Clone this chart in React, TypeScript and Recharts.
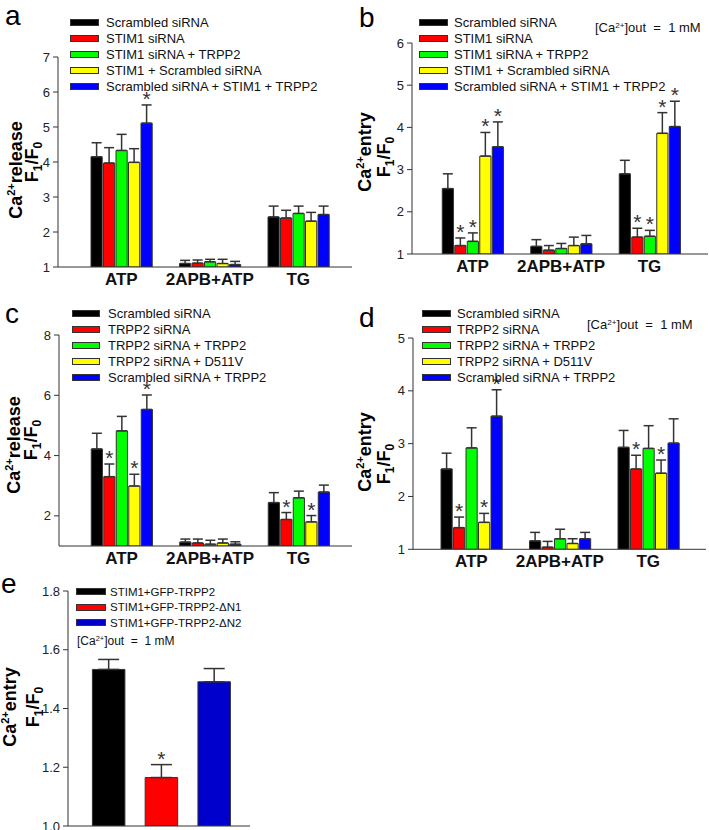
import React from 'react';
import { BarChart, Bar, XAxis, YAxis, ErrorBar, LabelList, Cell } from 'recharts';

const FONT = '"Liberation Sans", Arial, Helvetica, sans-serif';

// ---------- shared categories / series ----------
const groups = ['ATP', '2APB+ATP', 'TG'];
const colors5 = ['#000000', '#FF0000', '#00FF00', '#FFFF00', '#0000FF'];
const namesAB = ['Scrambled siRNA', 'STIM1 siRNA', 'STIM1 siRNA + TRPP2', 'STIM1 + Scrambled siRNA', 'Scrambled siRNA + STIM1 + TRPP2'];
const namesCD = ['Scrambled siRNA', 'TRPP2 siRNA', 'TRPP2 siRNA + TRPP2', 'TRPP2 siRNA + D511V', 'Scrambled siRNA + TRPP2'];

// ---------- panel a : Ca2+ release (rows = series, cols = groups) ----------
const aMean = [[4.15, 1.10, 2.43], [3.97, 1.11, 2.40], [4.33, 1.15, 2.53], [3.99, 1.10, 2.31], [5.11, 1.07, 2.50]];
const aErr = [[0.40, 0.09, 0.31], [0.44, 0.09, 0.22], [0.46, 0.07, 0.21], [0.39, 0.12, 0.25], [0.52, 0.09, 0.24]];
const aStar = [[0, 0, 0], [0, 0, 0], [0, 0, 0], [0, 0, 0], [1, 0, 0]];
const aTicks = [1, 2, 3, 4, 5, 6, 7];

// ---------- panel b : Ca2+ entry ----------
const bMean = [[2.55, 1.18, 2.90], [1.20, 1.09, 1.40], [1.30, 1.13, 1.42], [3.32, 1.20, 3.86], [3.54, 1.24, 4.02]];
const bErr = [[0.35, 0.16, 0.32], [0.18, 0.11, 0.21], [0.20, 0.12, 0.14], [0.56, 0.20, 0.49], [0.59, 0.20, 0.60]];
const bStar = [[0, 0, 0], [1, 0, 1], [1, 0, 1], [1, 0, 1], [1, 0, 1]];
const bTicks = [1, 2, 3, 4, 5, 6];

// ---------- panel c : Ca2+ release ----------
const cMean = [[4.22, 1.13, 2.44], [3.30, 1.10, 1.88], [4.82, 1.06, 2.60], [2.99, 1.10, 1.80], [5.53, 1.06, 2.79]];
const cErr = [[0.52, 0.10, 0.33], [0.42, 0.13, 0.23], [0.48, 0.13, 0.22], [0.39, 0.13, 0.21], [0.48, 0.08, 0.23]];
const cStar = [[0, 0, 0], [1, 0, 1], [0, 0, 0], [1, 0, 1], [1, 0, 0]];
const cTicks = [2, 4, 6, 8];

// ---------- panel d : Ca2+ entry ----------
const dMean = [[2.52, 1.16, 2.93], [1.41, 1.04, 2.52], [2.92, 1.20, 2.91], [1.51, 1.11, 2.44], [3.52, 1.20, 3.01]];
const dErr = [[0.30, 0.16, 0.32], [0.20, 0.11, 0.26], [0.38, 0.18, 0.43], [0.17, 0.09, 0.25], [0.50, 0.12, 0.46]];
const dStar = [[0, 0, 0], [1, 0, 1], [0, 0, 0], [1, 0, 1], [1, 0, 0]];
const dTicks = [1, 2, 3, 4, 5];

// ---------- panel e ----------
const eNames = ['STIM1+GFP-TRPP2', 'STIM1+GFP-TRPP2-\u0394N1', 'STIM1+GFP-TRPP2-\u0394N2'];
const eColors = ['#000000', '#FF0000', '#0000CC'];
const eMean = [1.533, 1.165, 1.491];
const eErr = [0.034, 0.044, 0.045];
const eStar = [0, 1, 0];
const eTicks = [1.0, 1.2, 1.4, 1.6, 1.8];

const starContent = (rows: any[], vKey: string, eKey: string, sKey: string, base: number) => (props: any) => {
  let idx = props.index;
  if (idx === undefined) idx = rows.findIndex((r) => r[vKey] === props.value);
  const row = rows[idx];
  if (!row || !row[sKey]) return null;
  const vb = props.viewBox && props.viewBox.height !== undefined ? props.viewBox : props;
  const x = Number(vb.x), y = Number(vb.y), w = Number(vb.width), h = Number(vb.height);
  const pxPer = Math.abs(h) / (row[vKey] - base);
  const top = Math.min(y, y + h) - row[eKey] * pxPer;
  return (
    <text x={x + w / 2} y={top + 1} textAnchor="middle" fontSize={21} fill="#333" fontFamily={FONT}>*</text>
  );
};

const XTick = (props: any) => (
  <text x={props.x} y={props.y + 18} textAnchor="middle" fontSize={17} fontWeight="bold" fill="#111" fontFamily={FONT}>
    {props.payload.value}
  </text>
);

function GroupPanel(p: any) {
  const rows = groups.map((g, gi) => {
    const r: any = { group: g };
    p.means.forEach((m: number[], s: number) => {
      r['v' + s] = m[gi];
      r['e' + s] = [0, p.errs[s][gi]];
      r['ev' + s] = p.errs[s][gi];
      r['s' + s] = p.stars[s][gi];
    });
    return r;
  });
  return (
    <div style={{ position: 'absolute', left: p.left, top: p.top }}>
      <BarChart width={p.width} height={p.height} data={rows}
        margin={{ top: p.mt, right: p.mr, bottom: p.mb, left: 0 }} barSize={11.2} barGap={1.3}>
        <XAxis dataKey="group" height={p.xh} padding={{ left: p.padL, right: p.padR }} tickLine={false}
          tickSize={0} tickMargin={0} axisLine={{ stroke: '#333' }} tick={XTick} interval={0} />
        <YAxis width={p.yW} domain={p.domain} ticks={p.ticks} allowDataOverflow type="number"
          tickSize={5} tickMargin={3} axisLine={{ stroke: '#333' }} tickLine={{ stroke: '#333' }}
          tick={{ fontSize: 13, fill: '#222', fontFamily: FONT }} interval={0} />
        {p.means.map((_: any, s: number) => (
          <Bar key={s} dataKey={'v' + s} fill={colors5[s]} stroke="#333" strokeWidth={1} isAnimationActive={false}>
            <ErrorBar dataKey={'e' + s} width={5} stroke="#333" strokeWidth={1.5} direction="y" />
            <LabelList dataKey={'v' + s} content={starContent(rows, 'v' + s, 'ev' + s, 's' + s, p.domain[0])} />
          </Bar>
        ))}
      </BarChart>
    </div>
  );
}

function EPanel() {
  const rows = eNames.map((n, i) => ({ name: n, v: eMean[i], e: [0, eErr[i]], ev: eErr[i], s: eStar[i] }));
  return (
    <div style={{ position: 'absolute', left: 0, top: 570 }}>
      <BarChart width={260} height={260} data={rows} margin={{ top: 21, right: 10, bottom: 0, left: 0 }} barSize={32.5}>
        <XAxis dataKey="name" height={4} padding={{ left: 14.4, right: 9.3 }} tick={false} tickLine={false}
          axisLine={{ stroke: '#333' }} />
        <YAxis width={68} domain={[1, 1.8]} ticks={eTicks} allowDataOverflow type="number"
          tickFormatter={(v: number) => v.toFixed(1)} tickSize={5} tickMargin={3}
          axisLine={{ stroke: '#333' }} tickLine={{ stroke: '#333' }}
          tick={{ fontSize: 13, fill: '#222', fontFamily: FONT }} interval={0} />
        <Bar dataKey="v" stroke="#333" strokeWidth={1} isAnimationActive={false}>
          {rows.map((_, i) => <Cell key={i} fill={eColors[i]} />)}
          <ErrorBar dataKey="e" width={10.5} stroke="#333" strokeWidth={1.5} direction="y" />
          <LabelList dataKey="v" content={starContent(rows, 'v', 'ev', 's', 1)} />
        </Bar>
      </BarChart>
    </div>
  );
}

function LegendBox(p: any) {
  return (
    <div style={{ position: 'absolute', left: p.left, top: p.top, fontFamily: FONT, fontSize: p.fontSize, color: '#111' }}>
      {p.names.map((n: string, i: number) => (
        <div key={i} style={{ display: 'flex', alignItems: 'center', height: p.rowH, whiteSpace: 'nowrap' }}>
          <div style={{ width: p.swW, height: 7, background: p.colors[i], border: '1px solid #333', boxSizing: 'border-box', marginRight: p.gap }} />
          <span>{n}</span>
        </div>
      ))}
    </div>
  );
}

function OutNote(p: any) {
  return (
    <div style={{ position: 'absolute', left: p.left, top: p.top, fontFamily: FONT, fontSize: p.fontSize, lineHeight: '14px', whiteSpace: 'pre', color: '#111' }}>
      [Ca<span style={{ fontSize: p.fontSize * 0.62, verticalAlign: 'top', lineHeight: '10px' }}>2+</span>]out  =  1 mM
    </div>
  );
}

function YLabel(p: any) {
  return (
    <g fontFamily={FONT} fontWeight="bold" fill="#000">
      <text transform={`translate(${p.x1},${p.y1}) rotate(-90)`} textAnchor="middle" fontSize={18}>
        Ca<tspan fontSize={11} dy={-7}>2+</tspan><tspan dy={7}>{p.word}</tspan>
      </text>
      <text transform={`translate(${p.x2},${p.y2}) rotate(-90)`} textAnchor="middle" fontSize={18}>
        F<tspan fontSize={12} dy={4}>1</tspan><tspan dy={-4}>/F</tspan><tspan fontSize={12} dy={4}>0</tspan>
      </text>
    </g>
  );
}

export default function App() {
  return (
    <div style={{ position: 'absolute', left: 0, top: 0, width: 709, height: 830, background: '#fff', overflow: 'hidden' }}>
      <GroupPanel left={0} top={0} width={354} height={300} yW={58} mt={57} mr={2} mb={3} xh={30}
        padL={19} padR={9.5} domain={[1, 7]} ticks={aTicks} means={aMean} errs={aErr} stars={aStar} />
      <GroupPanel left={354} top={0} width={355} height={300} yW={58} mt={43} mr={1} mb={16} xh={30}
        padL={16.25} padR={14.25} domain={[1, 6]} ticks={bTicks} means={bMean} errs={bErr} stars={bStar} />
      <GroupPanel left={0} top={300} width={354} height={280} yW={59} mt={35} mr={2} mb={4} xh={30}
        padL={18.25} padR={9.25} domain={[1, 8]} ticks={cTicks} means={cMean} errs={cErr} stars={cStar} />
      <GroupPanel left={354} top={300} width={355} height={280} yW={59} mt={38} mr={3} mb={0.7} xh={30}
        padL={14} padR={13.5} domain={[1, 5]} ticks={dTicks} means={dMean} errs={dErr} stars={dStar} />
      <EPanel />

      <LegendBox left={70} top={14} rowH={16.1} swW={29} gap={7} fontSize={13} names={namesAB} colors={colors5} />
      <LegendBox left={419} top={15} rowH={15.8} swW={29} gap={6} fontSize={13} names={namesAB} colors={colors5} />
      <LegendBox left={72} top={305} rowH={16} swW={28} gap={8} fontSize={13} names={namesCD} colors={colors5} />
      <LegendBox left={422} top={305} rowH={16} swW={29} gap={6} fontSize={13} names={namesCD} colors={colors5} />
      <LegendBox left={76} top={584} rowH={15.5} swW={30} gap={4} fontSize={11.5} names={eNames} colors={eColors} />

      <OutNote left={595} top={21} fontSize={13} />
      <OutNote left={587} top={318} fontSize={13} />
      <OutNote left={77} top={634} fontSize={12} />

      <svg width={709} height={830} style={{ position: 'absolute', left: 0, top: 0, pointerEvents: 'none' }}>
        <g fontFamily={FONT} fontSize={28} fill="#000">
          <text x={5} y={25}>a</text>
          <text x={359} y={27}>b</text>
          <text x={5} y={323}>c</text>
          <text x={359} y={327}>d</text>
          <text x={1} y={593}>e</text>
        </g>
        <YLabel word="release" x1={21.5} y1={170} x2={38} y2={162} />
        <YLabel word="entry" x1={371} y1={152} x2={390} y2={157} />
        <YLabel word="release" x1={20} y1={445} x2={37} y2={440} />
        <YLabel word="entry" x1={371} y1={452} x2={390} y2={464} />
        <YLabel word="entry" x1={16} y1={707} x2={39} y2={707} />
      </svg>
    </div>
  );
}
